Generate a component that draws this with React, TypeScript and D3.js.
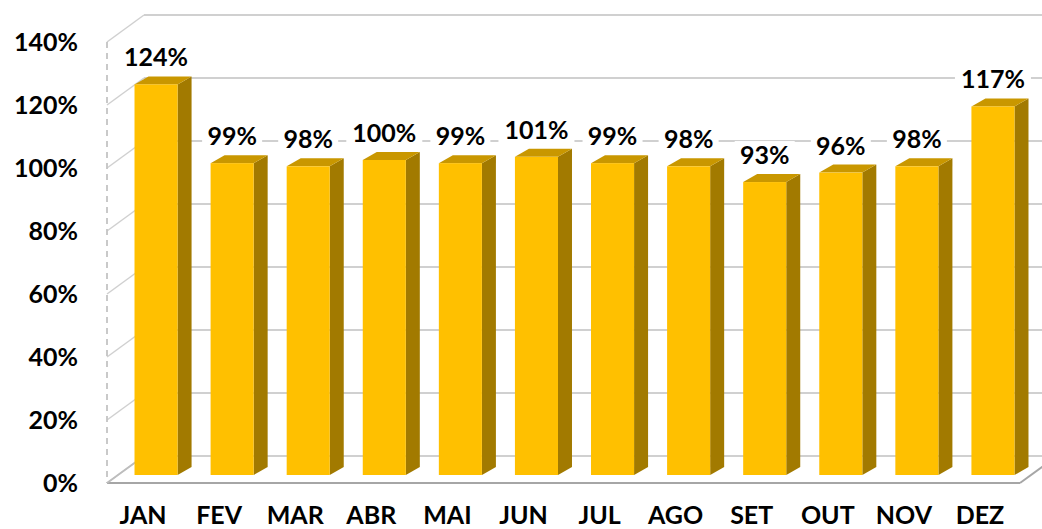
import React from "react";
import * as d3 from "d3";

const MONTHS = ["JAN", "FEV", "MAR", "ABR", "MAI", "JUN", "JUL", "AGO", "SET", "OUT", "NOV", "DEZ"];
const VALUES = [124, 99, 98, 100, 99, 101, 99, 98, 93, 96, 98, 117];
const Y_TICKS = [0, 20, 40, 60, 80, 100, 120, 140];

const W = 1042;
const H = 529;
const FONT = "Lato, 'Open Sans', sans-serif";

// 3D wall geometry (front plane → back wall offset)
const FRONT_LEFT = 107;
const FRONT_RIGHT = 1020;
const DEPTH_X = 37;
const DEPTH_Y = -27;
// bars sit a bit behind the front plane
const BAR_SHIFT_X = 11;
const BAR_SHIFT_Y = -8;
const BAR_DX = 14;
const BAR_DY = -8;

export default function App() {
  const yFront = d3.scaleLinear().domain([0, 140]).range([483, 42]);
  const yBack = (v: number) => yFront(v) + DEPTH_Y;
  const yBar = (v: number) => yFront(v) + BAR_SHIFT_Y;

  const xFront = d3.scaleBand<string>().domain(MONTHS).range([FRONT_LEFT, FRONT_RIGHT]).paddingInner(0.434).paddingOuter(0.217);
  const xBar = (m: string) => (xFront(m) as number) + BAR_SHIFT_X;
  const bw = xFront.bandwidth();

  const backLeft = FRONT_LEFT + DEPTH_X;
  const backRight = FRONT_RIGHT + DEPTH_X;

  return (
    <svg width={W} height={H} style={{ position: "absolute", left: 0, top: 0, background: "#fff" }}>
      {/* back wall gridlines + side wall diagonals */}
      {Y_TICKS.map((t) => (
        <g key={t}>
          <line x1={backLeft} x2={backRight} y1={yBack(t)} y2={yBack(t)} stroke="#d0d0d0" strokeWidth={1.8} />
          <line x1={FRONT_LEFT} y1={yFront(t)} x2={backLeft} y2={yBack(t)} stroke="#d0d0d0" strokeWidth={1.5} />
        </g>
      ))}
      {/* left dashed edge */}
      <line x1={FRONT_LEFT} x2={FRONT_LEFT} y1={yFront(140)} y2={yFront(0)} stroke="#c4c4c4" strokeWidth={1.8} strokeDasharray="6 5" />
      {/* floor front edges */}
      <line x1={FRONT_LEFT} x2={FRONT_RIGHT} y1={yFront(0)} y2={yFront(0)} stroke="#a6a6a6" strokeWidth={2.2} />
      <line x1={FRONT_RIGHT} y1={yFront(0)} x2={backRight} y2={yBack(0)} stroke="#a6a6a6" strokeWidth={2} />
      <line x1={FRONT_LEFT} y1={yFront(0)} x2={backLeft} y2={yBack(0)} stroke="#bdbdbd" strokeWidth={1.8} />

      {/* bars */}
      {MONTHS.map((m, i) => {
        const x0 = xBar(m);
        const x1 = x0 + bw;
        const yt = yBar(VALUES[i]);
        const yb = yBar(0);
        return (
          <g key={m}>
            <path d={`M${x1},${yt}L${x1 + BAR_DX},${yt + BAR_DY}L${x1 + BAR_DX},${yb + BAR_DY}L${x1},${yb}Z`} fill="#a27a00" />
            <path d={`M${x0},${yt}L${x0 + BAR_DX},${yt + BAR_DY}L${x1 + BAR_DX},${yt + BAR_DY}L${x1},${yt}Z`} fill="#c99700" />
            <rect x={x0} y={yt} width={bw} height={yb - yt} fill="#ffc000" />
          </g>
        );
      })}

      {/* value labels */}
      {MONTHS.map((m, i) => {
        const cx = xBar(m) + bw / 2;
        const cy = yBar(VALUES[i]) - 27;
        const label = `${VALUES[i]}%`;
        const boxW = label.length * 16 + 12;
        return (
          <g key={`v-${m}`}>
            <rect x={cx - boxW / 2} y={cy - 14} width={boxW} height={28} fill="#fff" />
            <text x={cx} y={cy + 9} textAnchor="middle" fontFamily={FONT} fontWeight={700} fontSize={25} fill="#000">
              {label}
            </text>
          </g>
        );
      })}

      {/* y axis labels */}
      {Y_TICKS.map((t) => (
        <text key={`y-${t}`} x={78} y={yFront(t) + 9} textAnchor="end" fontFamily={FONT} fontWeight={700} fontSize={25} fill="#000">
          {`${t}%`}
        </text>
      ))}

      {/* category labels */}
      {MONTHS.map((m) => (
        <text key={`c-${m}`} x={(xFront(m) as number) + bw / 2 - 2} y={524} textAnchor="middle" fontFamily={FONT} fontWeight={700} fontSize={25} fill="#000">
          {m}
        </text>
      ))}
    </svg>
  );
}
